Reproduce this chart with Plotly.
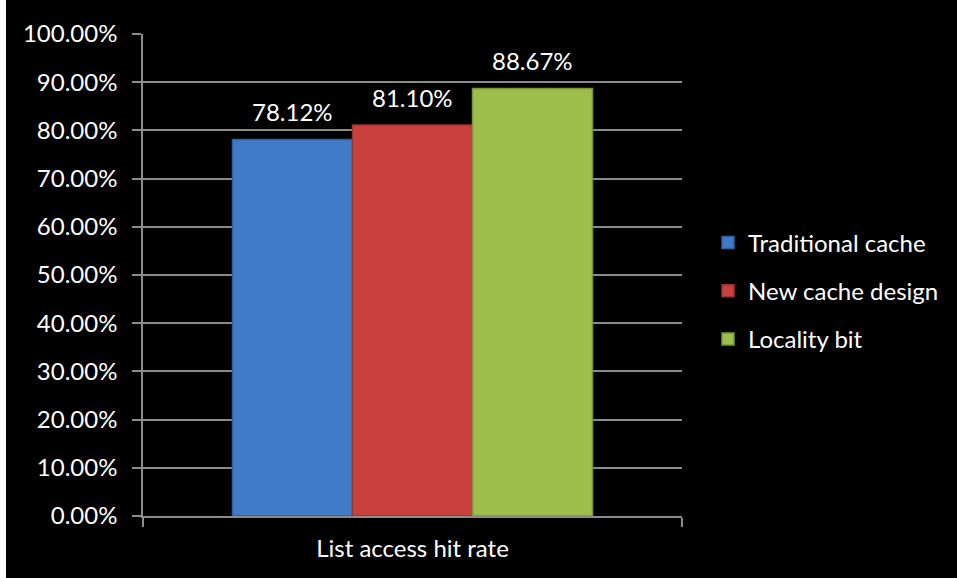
import plotly.graph_objects as go

# Hit-rate results for the list-access benchmark
category = ["List access hit rate"]
series_names = ["Traditional cache", "New cache design", "Locality bit"]
hit_rates = [78.12, 81.10, 88.67]
bar_colors = ["#3f7bc8", "#c9403d", "#9bbf4a"]
edge_colors = ["#2f5f9e", "#9a3230", "#78953a"]
y_ticks = [0, 10, 20, 30, 40, 50, 60, 70, 80, 90, 100]
y_tick_labels = [f"{v:.2f}%" for v in y_ticks]

FONT = "Lato, 'Open Sans', sans-serif"
W, H = 957, 578
L, R, T, B = 143, 275, 34, 62
pw, ph = W - L - R, H - T - B
bar_px = 120  # width of each bar in pixels within the group

fig = go.Figure()
for i, (name, val) in enumerate(zip(series_names, hit_rates)):
    fig.add_trace(go.Bar(
        x=category, y=[val], name=name,
        marker=dict(color=bar_colors[i], line=dict(color=edge_colors[i], width=1.5)),
        legendgroup=name,
        hoverinfo="skip",
    ))
    fig.add_annotation(
        x=category[0], y=val, text=f"{val:.2f}%",
        xshift=(i - 1) * bar_px, yshift=28,
        showarrow=False, font=dict(family=FONT, size=24, color="#ffffff"),
    )

# black chart area framed by a thin white edge on the top and left
fig.add_shape(
    type="rect", xref="paper", yref="paper", layer="below",
    x0=(6 - L) / pw, x1=(W - L) / pw,
    y0=-(B) / ph, y1=(H - T - 5) / ph,
    fillcolor="#000000", line=dict(width=0),
)

fig.update_layout(
    width=W, height=H,
    margin=dict(l=L, r=R, t=T, b=B, pad=0),
    paper_bgcolor="#ffffff",
    plot_bgcolor="#404040",
    barmode="group",
    bargap=0.332,
    bargroupgap=0,
    showlegend=True,
    legend=dict(
        x=(708 - L) / pw, y=0.467, xanchor="left", yanchor="middle",
        bgcolor="rgba(0,0,0,0)",
        font=dict(family=FONT, size=24, color="#ffffff"),
        tracegroupgap=14,
        itemwidth=30,
    ),
    font=dict(family=FONT, color="#ffffff"),
)

fig.update_xaxes(
    type="category",
    showgrid=False,
    showline=True, linecolor="#8c8c8c", linewidth=1.5,
    ticks="outside", tickson="boundaries", ticklen=9, tickcolor="#8c8c8c", tickwidth=1.5,
    tickfont=dict(family=FONT, size=24, color="#ffffff"),
    ticklabelstandoff=10,
)
fig.update_yaxes(
    range=[0, 100],
    tickvals=y_ticks, ticktext=y_tick_labels,
    showgrid=True, gridcolor="#8c8c8c", gridwidth=1.5,
    showline=True, linecolor="#8c8c8c", linewidth=1.5,
    ticks="outside", ticklen=9, tickcolor="#8c8c8c", tickwidth=1.5,
    tickfont=dict(family=FONT, size=24, color="#ffffff"),
    ticklabelstandoff=10,
    zeroline=False,
)

fig.write_html("out.html")
